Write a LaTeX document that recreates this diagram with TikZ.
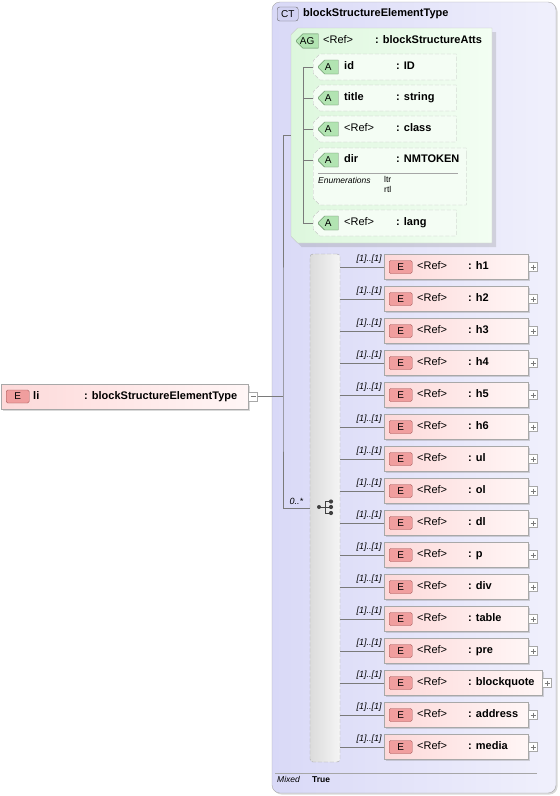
\documentclass[tikz,border=0pt]{standalone}
\usepackage{fontspec}
\setmainfont{Liberation Sans}
\usetikzlibrary{positioning,shapes.misc,shadows}

\definecolor{ctleft}{HTML}{D9D9F7}
\definecolor{ctright}{HTML}{F0F0FC}
\definecolor{agleft}{HTML}{DDF7DD}
\definecolor{agright}{HTML}{F3FEF3}
\definecolor{attrfill}{HTML}{F4FDF4}
\definecolor{elleft}{HTML}{FDD9D9}
\definecolor{elright}{HTML}{FFF6F6}
\definecolor{ebadgefill}{HTML}{F09E9E}
\definecolor{ebadgeline}{HTML}{A05050}
\definecolor{abadgefill}{HTML}{B2E4B2}
\definecolor{abadgeline}{HTML}{557F55}
\definecolor{ctbadgefill}{HTML}{D2D2F2}
\definecolor{frame}{HTML}{A8A8A8}
\definecolor{wire}{HTML}{7A7A7A}

\begin{document}
\begin{tikzpicture}[x=1pt, y=-1pt, font=\fontsize{11}{13}\selectfont]
        \tikzstyle{shade box} = [drop shadow={opacity=.3, shadow xshift=1.5pt, shadow yshift=-1.5pt}]
        \tikzstyle{edge} = [draw=wire, line width=.6pt]
        \tikzstyle{complex type} = [rectangle, rounded corners=8pt, draw=frame, left color=ctleft, right color=ctright, minimum width=284pt, minimum height=791pt, shade box]
        \tikzstyle{group} = [chamfered rectangle, chamfered rectangle corners={north west,south west}, chamfered rectangle xsep=6pt, draw=frame!70, left color=agleft, right color=agright, minimum width=201pt, minimum height=215pt, drop shadow={opacity=.25, shadow xshift=4pt, shadow yshift=-4pt}]
        \tikzstyle{attribute} = [chamfered rectangle, chamfered rectangle corners={north west,south west}, chamfered rectangle xsep=8pt, draw=black!25, dash pattern=on 4pt off 2pt, fill=attrfill, anchor=west, minimum width=143pt, minimum height=26pt]
        \tikzstyle{choice} = [rectangle, rounded corners=3pt, draw=black!35, dash pattern=on 4pt off 2pt, left color=black!14, right color=black!4, minimum width=30pt, minimum height=508pt]
        \tikzstyle{element} = [rectangle, draw=frame, left color=elleft, right color=elright, anchor=west, minimum width=144pt, minimum height=25pt, shade box]
        \tikzstyle{element badge} = [rectangle, rounded corners=1.5pt, draw=ebadgeline, fill=ebadgefill, minimum width=23pt, minimum height=13pt, inner sep=0pt, font=\fontsize{10}{10}\selectfont]
        \tikzstyle{attr badge} = [chamfered rectangle, chamfered rectangle corners={north west,south west}, chamfered rectangle xsep=3pt, draw=abadgeline, fill=abadgefill, minimum width=20pt, minimum height=14pt, inner sep=0pt, font=\fontsize{10}{10}\selectfont]
        \tikzstyle{type badge} = [rectangle, rounded corners=2.5pt, draw=black!60, fill=ctbadgefill, minimum width=21pt, minimum height=14pt, inner sep=0pt, font=\fontsize{10}{10}\selectfont]
        \tikzstyle{entry text} = [anchor=west, inner sep=0pt, text height=8pt, text depth=2.5pt]
        \tikzstyle{card} = [font=\fontsize{9}{10}\selectfont\itshape, inner xsep=2pt, inner ysep=3pt]
        \tikzstyle{small} = [anchor=west, inner sep=0pt, font=\fontsize{8.5}{10}\selectfont]
        \tikzstyle{expander} = [rectangle, draw=frame, fill=white, minimum size=9pt, inner sep=0pt]
        \tikzstyle{minus box} = [expander, path picture={\draw[wire, line width=.5pt] ([xshift=2pt]path picture bounding box.west) -- ([xshift=-2pt]path picture bounding box.east);}]
        \tikzstyle{plus box} = [expander, path picture={\draw[wire, line width=.5pt] ([xshift=2pt]path picture bounding box.west) -- ([xshift=-2pt]path picture bounding box.east) ([yshift=-2pt]path picture bounding box.north) -- ([yshift=2pt]path picture bounding box.south);}]

        \useasboundingbox (0,0) rectangle (560,796);

        % complex type
        \node[complex type] (CT) at (414,397.5) {};
        \node[type badge, anchor=west] at (277,14) {CT};
        \node[entry text] at (303,14) {\textbf{blockStructureElementType}};

        % attribute group
        \node[group] (AG) at (391.5,135.5) {};
        \node[attr badge, minimum width=22pt, anchor=west] at (296,41) {AG};
        \node[entry text] at (323,41) {\makebox[52pt][l]{<Ref>}\textbf{: blockStructureAtts}};

        \foreach \nm/\lbl/\typ/\yy in {id/\textbf{id}/ID/67, title/\textbf{title}/string/98, class/<Ref>/class/129, lang/<Ref>/lang/223} {
            \node[attribute] (\nm) at (313,\yy) {};
            \node[attr badge, right=5pt of \nm.west] {A};
            \node[entry text, right=31pt of \nm.west] {\makebox[52pt][l]{\lbl}\textbf{: \typ}};
        }
        \node[attribute, minimum width=153pt, minimum height=57pt] (dir) at (313,176.5) {};
        \node[attr badge, anchor=west] at (318,160) {A};
        \node[entry text] (dirrow) at (344,160) {\makebox[52pt][l]{\textbf{dir}}\textbf{: NMTOKEN}};
        \draw[draw=black!35, line width=.5pt] (318,173.5) -- (458,173.5);
        \node[small, anchor=north west] at (318,177) {\textit{Enumerations}};
        \node[small, anchor=north west, align=left, font=\fontsize{8.5}{10}\selectfont] at (384,176) {ltr\\rtl};

        \coordinate (attr bus) at (303,67);
        \draw[edge] (attr bus) |- (lang.west);
        \foreach \nm in {id,title,class}
            \draw[edge] (attr bus |- \nm.west) -- (\nm.west);
        \draw[edge] (attr bus |- dirrow) -- (dir.west |- dirrow);

        % choice of block elements
        \node[choice] (choice) at (325,508) {};
        \draw[edge, draw=black!75, line width=.8pt] (319,507) -- (325,507) (325,501.5) -- (325,513)
            (325,501.5) -- (331,501.5) (325,507) -- (331,507) (325,513) -- (331,513);
        \foreach \yy in {501.5,507,513}
            \fill[black!75] (331,\yy) circle (2.1pt);
        \fill[black!75] (319,507) circle (2pt);

        \foreach \nm/\w [count=\i] in {h1/144,h2/144,h3/144,h4/144,h5/144,h6/144,ul/144,ol/144,dl/144,p/144,div/144,table/144,pre/144,blockquote/158,address/144,media/144} {
            \node[element, minimum width=\w pt] (\nm) at (384,235+32*\i) {};
            \node[element badge, right=5pt of \nm.west] {E};
            \node[entry text, right=33pt of \nm.west] {\makebox[51pt][l]{<Ref>}\textbf{: \nm}};
            \node[plus box, right=0pt of \nm.east] {};
            \draw[edge] (choice.east |- \nm.west) -- (\nm.west) node[card, above left] {[1]..[1]};
        }

        % the element li
        \node[element, minimum width=247pt] (li) at (1,396.5) {};
        \node[element badge, right=5pt of li.west] {E};
        \node[entry text, right=32pt of li.west] {\makebox[51pt][l]{\textbf{li}}\textbf{: blockStructureElementType}};
        \node[minus box, right=0pt of li.east] (liminus) {};

        \coordinate (bus) at (283,396.5);
        \draw[edge] (liminus.east) -- (bus);
        \draw[edge] (AG.west) -| (bus) |- node[card, pos=.75, above] {0..*} (choice.west);

        % mixed content
        \draw[draw=black!35, line width=.5pt] (275,773) -- (537,773);
        \node[small] at (277,779.5) {\textit{Mixed}};
        \node[small] at (312,779.5) {\textbf{True}};
\end{tikzpicture}
\end{document}
